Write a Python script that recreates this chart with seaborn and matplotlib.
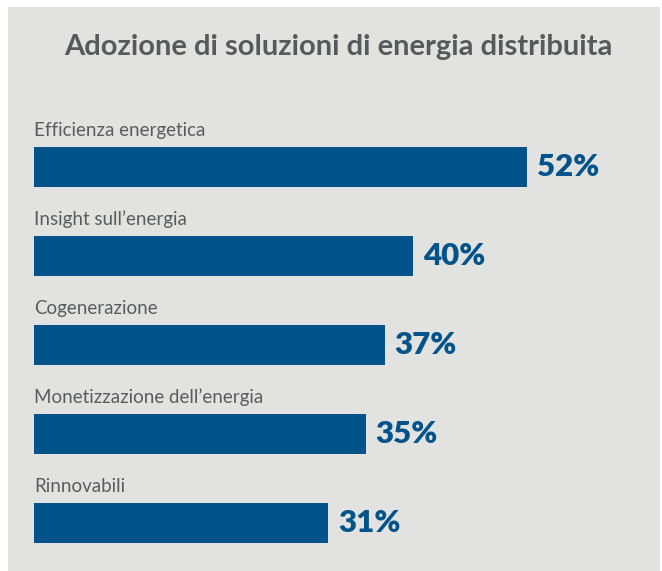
import matplotlib
matplotlib.use("Agg")
import matplotlib.pyplot as plt
import seaborn as sns
import pandas as pd

# Data
categories = ["Efficienza energetica", "Insight sull\u2019energia", "Cogenerazione",
              "Monetizzazione dell\u2019energia", "Rinnovabili"]
values = [52, 40, 37, 35, 31]
title = "Adozione di soluzioni di energia distribuita"

BAR = "#01538a"
PANEL = "#e2e3e1"
GREY = "#58595b"

sns.set_theme(style="white")
plt.rcParams["font.family"] = ["Lato", "DejaVu Sans"]

df = pd.DataFrame({"cat": categories, "val": values})

W, H = 662, 571
fig = plt.figure(figsize=(W / 100, H / 100), dpi=100, facecolor="white")
# gray panel area
ax = fig.add_axes([8 / W, 0, 652 / W, (H - 7) / H])
ax.set_facecolor(PANEL)

bar_w = 40 / 89
sns.barplot(data=df, x="val", y="cat", orient="h", color=BAR, width=bar_w,
            saturation=1, linewidth=0, ax=ax)

ax.set_xlim(-26 / 9.48, 626 / 9.48)
ax.set_ylim(4.54, -1.80)

for i, (c, v) in enumerate(zip(categories, values)):
    ax.text(0, i - bar_w / 2 - 11 / 89, c, ha="left", va="baseline",
            fontsize=13.5, color="#5a5b5d", fontweight="normal")
    ax.text(v + 1.05, i, f"{v}%", ha="left", va="center",
            fontsize=22.5, color=BAR, fontweight="heavy")

fig.text(338 / W, 1 - 47 / H, title, ha="center", va="center",
         fontsize=21, color=GREY, fontweight="bold")

ax.set_xlabel("")
ax.set_ylabel("")
ax.set_xticks([])
ax.set_yticks([])
for s in ax.spines.values():
    s.set_visible(False)

fig.savefig("out.png", dpi=100, facecolor="white")
